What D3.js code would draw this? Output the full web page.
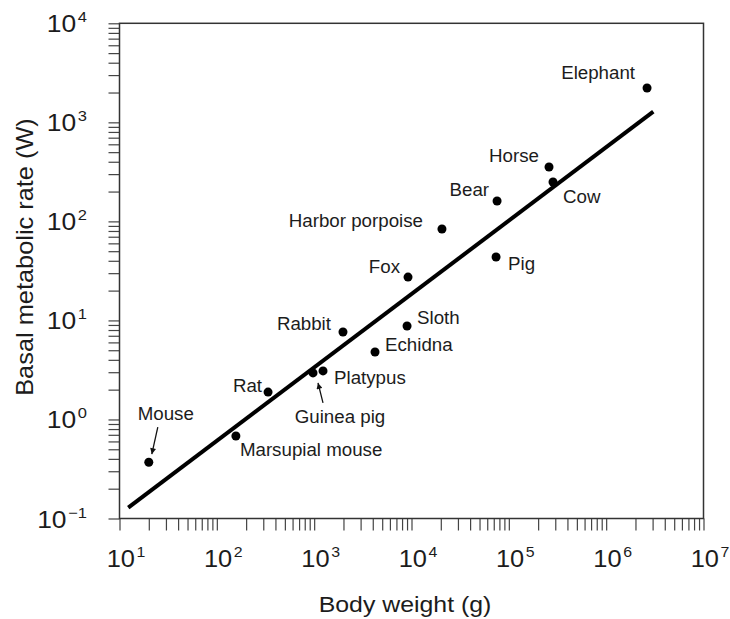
<!DOCTYPE html>
<html>
<head>
<meta charset="utf-8">
<script src="https://cdn.jsdelivr.net/npm/d3@7"></script>
<style>
	body{ margin:0; background:#fff; }
	text{ font-family:"Liberation Sans", Arial, Helvetica, sans-serif; fill:#1c1c1c; }
</style>
</head>
<body>
<div id="chart"></div>
<script>
// values (body weight in g, basal metabolic rate in W)
var animals = ["Mouse", "Marsupial mouse", "Rat", "Guinea pig", "Platypus", "Rabbit", "Echidna",
	"Sloth", "Fox", "Harbor porpoise", "Bear", "Pig", "Horse", "Cow", "Elephant"];
var bodyWeight = [20, 157, 336, 973, 1233, 1977, 4220, 9000, 9210, 20560, 75700, 73900, 258800, 284400, 2630000];
var metabolicRate = [0.37, 0.68, 1.89, 2.95, 3.09, 7.64, 4.80, 8.79, 27.4, 83.8, 160.6, 43.7, 354, 250, 2222];

// fitted line, its two ends
var fitWeight = [12.3, 3050000];
var fitRate = [0.129, 1280];

var xDecades = [1e1, 1e2, 1e3, 1e4, 1e5, 1e6, 1e7];
var xExponents = ["1", "2", "3", "4", "5", "6", "7"];
var yDecades = [1e-1, 1e0, 1e1, 1e2, 1e3, 1e4];
var yExponents = ["\u22121", "0", "1", "2", "3", "4"];

var xTitle = "Body weight (g)";
var yTitle = "Basal metabolic rate (W)";

// where each name sits relative to its dot (px)
var labelLayout = {
	"Mouse": { dx: 17, dy: -42, anchor: "middle", arrow: [9, -35, 3, -8] },
	"Marsupial mouse": { dx: 4, dy: 20, anchor: "start" },
	"Rat": { dx: -6, dy: 0, anchor: "end" },
	"Guinea pig": { dx: 27, dy: 50, anchor: "middle", arrow: [10, 30, 5, 10] },
	"Platypus": { dx: 11, dy: 13, anchor: "start" },
	"Rabbit": { dx: -12, dy: -2, anchor: "end" },
	"Echidna": { dx: 10, dy: -1, anchor: "start" },
	"Sloth": { dx: 10, dy: -2, anchor: "start" },
	"Fox": { dx: -8, dy: -4, anchor: "end" },
	"Harbor porpoise": { dx: -19, dy: -2, anchor: "end" },
	"Bear": { dx: -8, dy: -5, anchor: "end" },
	"Pig": { dx: 12, dy: 13, anchor: "start" },
	"Horse": { dx: -10, dy: -5, anchor: "end" },
	"Cow": { dx: 10, dy: 21, anchor: "start" },
	"Elephant": { dx: -12, dy: -9, anchor: "end" }
};

var width = 730, height = 619;
var margin = { left: 119.5, right: 26.5, top: 23.3, bottom: 100.5 };
var plotW = width - margin.left - margin.right;
var plotH = height - margin.top - margin.bottom;

var x = d3.scaleLog().domain([1e1, 1e7]).range([margin.left, margin.left + plotW]);
var y = d3.scaleLog().domain([1e-1, 1e4]).range([margin.top + plotH, margin.top]);

function minorTicks(decades){
	var ticks = [];
	decades.forEach(function(d, i){
		if(i === decades.length - 1){ ticks.push(d); return; }
		for(var k = 1; k < 10; k++) ticks.push(k * d);
	});
	return ticks;
}

var svg = d3.select("#chart").append("svg")
	.attr("width", width)
	.attr("height", height);

svg.append("defs").append("marker")
		.attr("id", "arrowhead")
		.attr("viewBox", "0 0 10 10")
		.attr("refX", 10)
		.attr("refY", 5)
		.attr("markerWidth", 8)
		.attr("markerHeight", 6)
		.attr("markerUnits", "userSpaceOnUse")
		.attr("orient", "auto")
	.append("path")
		.attr("d", "M0,0L10,5L0,10z")
		.style("fill", "#111");

// tick marks
var xTicks = svg.append("g")
	.attr("transform", "translate(0," + (margin.top + plotH) + ")")
	.call(d3.axisBottom(x).tickValues(minorTicks(xDecades)).tickSize(12).tickSizeOuter(0).tickFormat(""));

var yTicks = svg.append("g")
	.attr("transform", "translate(" + margin.left + ",0)")
	.call(d3.axisLeft(y).tickValues(minorTicks(yDecades)).tickSize(11).tickSizeOuter(0).tickFormat(""));

[xTicks, yTicks].forEach(function(g){
	g.select(".domain").remove();
	g.selectAll(".tick line").style("stroke", "#444").style("stroke-width", 1.2);
});

// tick labels 10^n
var xLabels = svg.append("g")
	.attr("transform", "translate(0," + (margin.top + plotH) + ")")
	.call(d3.axisBottom(x).tickValues(xDecades).tickSize(0).tickFormat(""));

var yLabels = svg.append("g")
	.attr("transform", "translate(" + margin.left + ",0)")
	.call(d3.axisLeft(y).tickValues(yDecades).tickSize(0).tickFormat(""));

function powerLabel(text, exponent){
	text.attr("x", null).attr("y", null).attr("dy", null)
		.style("font-size", "24px");
	text.append("tspan").text("10");
	text.append("tspan")
		.attr("dx", 1.5)
		.attr("dy", -10)
		.style("font-size", "15px")
		.text(exponent);
}

xLabels.select(".domain").remove();
xLabels.selectAll(".tick text").each(function(d, i){
	var t = d3.select(this)
		.attr("text-anchor", "middle")
		.attr("transform", "translate(6,48.5) scale(1.06,1)");
	powerLabel(t, xExponents[i]);
});

yLabels.select(".domain").remove();
yLabels.selectAll(".tick text").each(function(d, i){
	var t = d3.select(this)
		.attr("text-anchor", "end")
		.attr("transform", "translate(-32.5,8.5) scale(1.1,1)");
	powerLabel(t, yExponents[i]);
});

// frame
svg.append("rect")
	.attr("x", margin.left)
	.attr("y", margin.top)
	.attr("width", plotW)
	.attr("height", plotH)
	.style("fill", "none")
	.style("stroke", "#333")
	.style("stroke-width", 1.5);

// fit line
svg.append("line")
	.attr("x1", x(fitWeight[0]))
	.attr("y1", y(fitRate[0]))
	.attr("x2", x(fitWeight[1]))
	.attr("y2", y(fitRate[1]))
	.style("stroke", "#000")
	.style("stroke-width", 4);

var points = animals.map(function(name, i){
	return { name: name, w: bodyWeight[i], r: metabolicRate[i], layout: labelLayout[name] };
});

var dots = svg.append("g")
		.selectAll("g")
		.data(points)
	.enter().append("g")
		.attr("transform", function(d){ return "translate(" + x(d.w) + "," + y(d.r) + ")"; });

dots.append("circle")
	.attr("r", 4.5)
	.style("fill", "#000");

dots.append("text")
	.attr("text-anchor", function(d){ return d.layout.anchor; })
	.attr("transform", function(d){ return "translate(" + d.layout.dx + "," + d.layout.dy + ") scale(1.07,1)"; })
	.style("font-size", "17.5px")
	.text(function(d){ return d.name; });

dots.filter(function(d){ return !!d.layout.arrow; })
	.append("line")
		.attr("x1", function(d){ return d.layout.arrow[0]; })
		.attr("y1", function(d){ return d.layout.arrow[1]; })
		.attr("x2", function(d){ return d.layout.arrow[2]; })
		.attr("y2", function(d){ return d.layout.arrow[3]; })
		.attr("marker-end", "url(#arrowhead)")
		.style("stroke", "#111")
		.style("stroke-width", 1.3);

// axis titles
svg.append("text")
	.attr("text-anchor", "middle")
	.attr("transform", "translate(" + 405 + "," + 612 + ") scale(1.13,1)")
	.style("font-size", "22px")
	.text(xTitle);

svg.append("text")
	.attr("text-anchor", "middle")
	.attr("transform", "translate(" + 32.5 + "," + 257 + ") rotate(-90) scale(1.08,1)")
	.style("font-size", "23.5px")
	.text(yTitle);
</script>
</body>
</html>
